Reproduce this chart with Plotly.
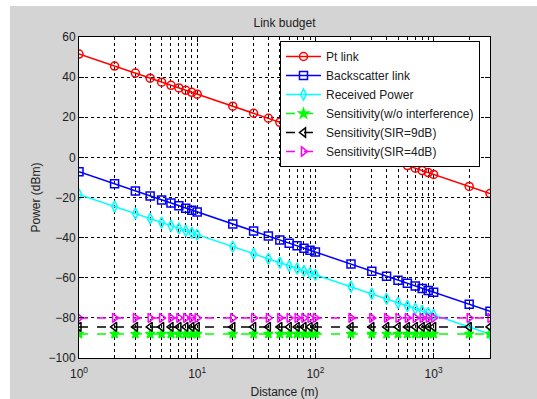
import plotly.graph_objects as go

# ---- data ----
distance = [1, 2, 3, 4, 5, 6, 7, 8, 9, 10,
            20, 30, 40, 50, 60, 70, 80, 90, 100,
            200, 300, 400, 500, 600, 700, 800, 900, 1000,
            2000, 3000]
pt_link = [51.5, 45.5, 42.0, 39.5, 37.5, 35.9, 34.6, 33.4, 32.4, 31.5,
           25.5, 22.0, 19.5, 17.5, 15.9, 14.6, 13.4, 12.4, 11.5,
           5.5, 2.0, -0.5, -2.5, -4.1, -5.4, -6.6, -7.6, -8.5,
           -14.5, -18.0]
backscatter = [-7.2, -13.2, -16.7, -19.2, -21.2, -22.8, -24.1, -25.3, -26.3, -27.2,
               -33.2, -36.7, -39.2, -41.2, -42.8, -44.1, -45.3, -46.3, -47.2,
               -53.2, -56.7, -59.2, -61.2, -62.8, -64.1, -65.3, -66.3, -67.2,
               -73.2, -76.7]
received = [-18.5, -24.5, -28.0, -30.5, -32.5, -34.1, -35.4, -36.6, -37.6, -38.5,
            -44.5, -48.0, -50.5, -52.5, -54.1, -55.4, -56.6, -57.6, -58.5,
            -64.5, -68.0, -70.5, -72.5, -74.1, -75.4, -76.6, -77.6, -78.5,
            -84.5, -88.0]
sens_no_interf = -88.0
sens_sir9 = -84.5
sens_sir4 = -80.0

major_ticks = [1, 10, 100, 1000]
major_text = ["10<sup>0</sup>", "10<sup>1</sup>", "10<sup>2</sup>", "10<sup>3</sup>"]
minor_ticks = [2, 3, 4, 5, 6, 7, 8, 9, 20, 30, 40, 50, 60, 70, 80, 90,
               200, 300, 400, 500, 600, 700, 800, 900, 2000, 3000]
y_ticks = [-100, -80, -60, -40, -20, 0, 20, 40, 60]

# ---- figure ----
W, H = 537, 399
L, R, T, B = 79, 47, 37, 41
pw, ph = W - L - R, H - T - B

fig = go.Figure()

def add(name, y, color, symbol, dash, size=8):
    fig.add_trace(go.Scatter(
        x=distance, y=y, name=name, mode="lines+markers",
        line=dict(color=color, width=1.5, dash=dash),
        marker=dict(symbol=symbol, size=size, color=color,
                    line=dict(color=color, width=1.5)),
    ))

add("Pt link", pt_link, "#ff0000", "circle-open", "solid")
add("Backscatter link", backscatter, "#0000ff", "square-open", "solid")
add("Received Power", received, "#00ffff", "diamond-tall-open", "solid")
add("Sensitivity(w/o interference)", [sens_no_interf] * len(distance), "#00ff00", "star", "dash", 7)
add("Sensitivity(SIR=9dB)", [sens_sir9] * len(distance), "#000000", "triangle-left-open", "dash")
add("Sensitivity(SIR=4dB)", [sens_sir4] * len(distance), "#ff00ff", "triangle-right-open", "dash")

gray = "#d4d4d4"
txt = "#202020"
fnt = "Liberation Sans, Arial, sans-serif"

# white border strips of the screenshot (left and top)
fig.add_shape(type="rect", xref="paper", yref="paper",
              x0=-L / pw, x1=(10 - L) / pw, y0=-B / ph - 0.01, y1=(ph + T) / ph + 0.01,
              fillcolor="white", line_width=0, layer="below")
fig.add_shape(type="rect", xref="paper", yref="paper",
              x0=-L / pw - 0.01, x1=(pw + R) / pw + 0.01, y0=(ph + T - 6) / ph, y1=(ph + T) / ph + 0.01,
              fillcolor="white", line_width=0, layer="below")

fig.update_layout(
    width=W, height=H,
    margin=dict(l=L, r=R, t=T, b=B, autoexpand=False),
    paper_bgcolor=gray, plot_bgcolor="white",
    font=dict(family=fnt, size=12, color=txt),
    title=dict(text="Link budget", x=(L + pw / 2) / W, xanchor="center",
               y=1 - 23 / H, yanchor="middle", font=dict(size=12, color=txt)),
    showlegend=True,
    legend=dict(x=(280 - L) / pw, xanchor="left", y=(ph + T - 41) / ph, yanchor="top",
                bgcolor="white", bordercolor="black", borderwidth=1,
                font=dict(size=12, color=txt), tracegroupgap=0, itemwidth=35),
)

fig.update_xaxes(
    type="log", range=[0, 3.4771], automargin=False,
    tickmode="array", tickvals=major_ticks, ticktext=major_text,
    ticks="inside", ticklen=5, tickcolor="black",
    showline=True, linecolor="black", linewidth=1, mirror="allticks",
    showgrid=True, gridcolor="black", gridwidth=1, griddash="dot",
    minor=dict(tickmode="array", tickvals=minor_ticks, ticks="inside", ticklen=3,
               tickcolor="black", showgrid=True, gridcolor="black", griddash="dot", gridwidth=1),
    zeroline=False, ticklabelstandoff=5,
    title=dict(text="Distance (m)", standoff=8, font=dict(size=12, color=txt)),
    tickfont=dict(size=12, color=txt),
)
fig.update_yaxes(
    range=[-100, 60], tickmode="array", tickvals=y_ticks, automargin=False,
    ticks="inside", ticklen=5, tickcolor="black",
    showline=True, linecolor="black", linewidth=1, mirror="allticks",
    showgrid=True, gridcolor="black", gridwidth=1, griddash="dot",
    zeroline=False,
    title=dict(text="Power (dBm)", standoff=5, font=dict(size=12, color=txt)),
    tickfont=dict(size=12, color=txt),
)

fig.write_html("out.html")
